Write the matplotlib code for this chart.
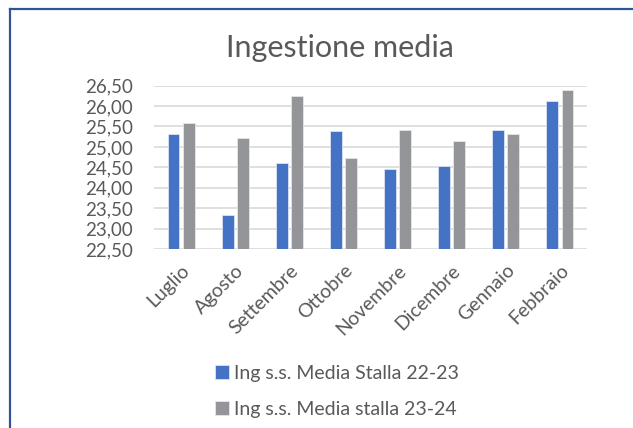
import numpy as np
import matplotlib.pyplot as plt
from matplotlib.lines import Line2D
from matplotlib.ticker import FuncFormatter

plt.rcParams['font.family'] = ['Lato', 'DejaVu Sans']

mesi = ["Luglio", "Agosto", "Settembre", "Ottobre", "Novembre",
        "Dicembre", "Gennaio", "Febbraio"]
stalla_22_23 = [25.31, 23.33, 24.61, 25.38, 24.46, 24.53, 25.42, 26.12]
stalla_23_24 = [25.58, 25.23, 26.24, 24.72, 25.42, 25.15, 25.31, 26.39]
etichette = ["Ing s.s. Media Stalla 22-23", "Ing s.s. Media stalla 23-24"]

blu = "#4472C4"
grigio = "#939598"
testo = "#595959"

fig = plt.figure(figsize=(6.33, 4.28), dpi=100)
ax = fig.add_axes([0.2433, 0.418, 0.684, 0.382])

x = np.arange(len(mesi))
w = 0.22
ax.bar(x - 0.14, np.array(stalla_22_23) - 22.5, w, bottom=22.5, color=blu,
       edgecolor="#DCE4F2", linewidth=0.6, label=etichette[0], zorder=3)
ax.bar(x + 0.14, np.array(stalla_23_24) - 22.5, w, bottom=22.5, color=grigio,
       edgecolor="#E6E6E6", linewidth=0.6, label=etichette[1], zorder=3)

ax.set_xlim(-0.5, len(mesi) - 0.5)
ax.set_ylim(22.5, 26.5)
ax.set_yticks(np.arange(22.5, 26.51, 0.5))
ax.yaxis.set_major_formatter(FuncFormatter(lambda v, p: f"{v:.2f}".replace(".", ",")))
ax.grid(axis="y", color="#D9D9D9", linewidth=1.2, zorder=0)
for s in ax.spines.values():
    s.set_visible(False)
ax.tick_params(axis="y", length=0, colors=testo, labelsize=13.5, pad=15)
ax.set_xticks(x)
ax.set_xticklabels(mesi, rotation=45, ha="right", rotation_mode="anchor")
ax.tick_params(axis="x", length=0, colors=testo, labelsize=14, pad=9)

fig.text(0.537, 0.888, "Ingestione media", ha="center", va="center",
         fontsize=22, color=testo)

fig.legend(loc="upper left", bbox_to_anchor=(0.339, 0.148), frameon=False,
           fontsize=14, labelcolor=testo, handlelength=0.72, handleheight=0.72,
           handletextpad=0.3, labelspacing=1.0, borderpad=0, borderaxespad=0)

# cornice del grafico
fig.add_artist(Line2D([0.016, 0.016], [0, 0.978], color="#2F5597", linewidth=1.6))
fig.add_artist(Line2D([0.016, 1.0], [0.978, 0.978], color="#2F5597", linewidth=1.6))

fig.savefig("out.png", dpi=100)
